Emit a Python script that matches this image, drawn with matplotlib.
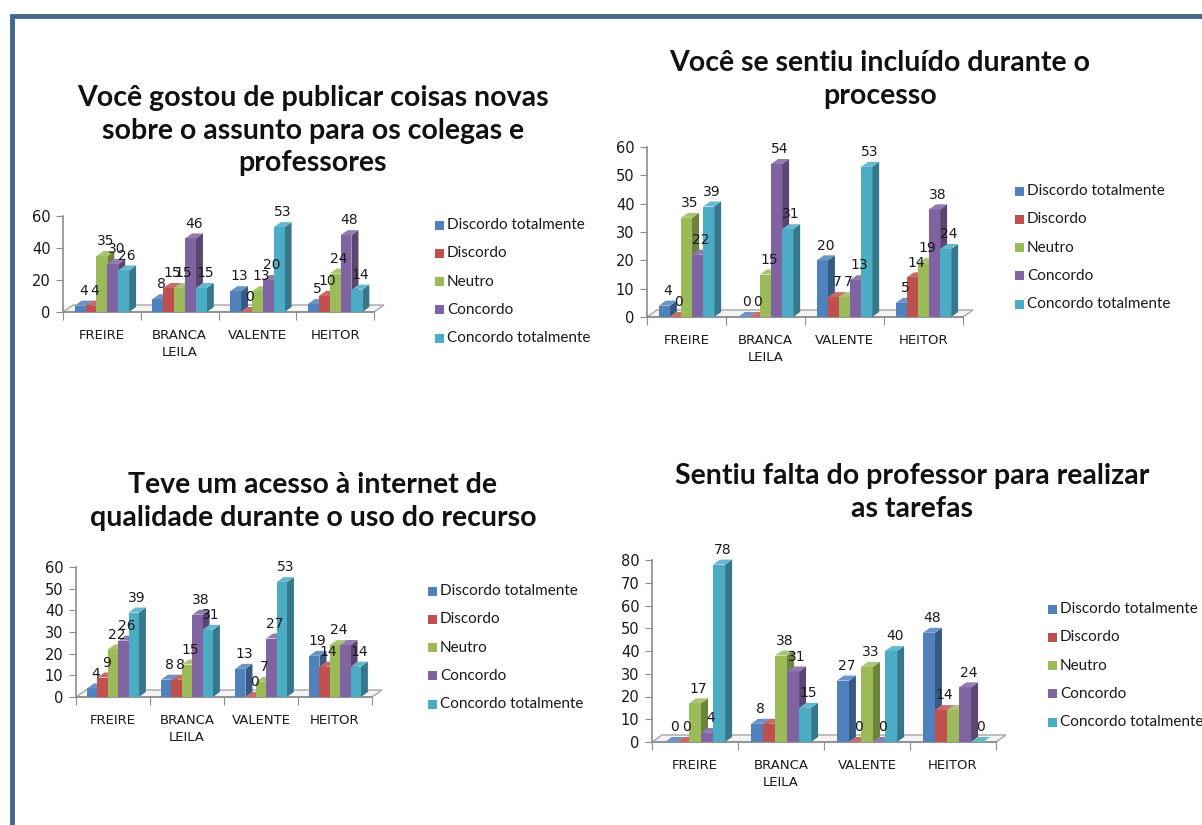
import matplotlib
matplotlib.use("Agg")
import matplotlib.pyplot as plt
from matplotlib.patches import Polygon, Rectangle
from matplotlib.lines import Line2D
import matplotlib.colors as mcolors

# data
categories = ["FREIRE", "BRANCA\nLEILA", "VALENTE", "HEITOR"]
series = ["Discordo totalmente", "Discordo", "Neutro", "Concordo", "Concordo totalmente"]
colors = ["#4F81BD", "#C0504D", "#9BBB59", "#8064A2", "#4BACC6"]

titles = [
    "Você gostou de publicar coisas novas\nsobre o assunto para os colegas e\nprofessores",
    "Você se sentiu incluído durante o\nprocesso",
    "Teve um acesso à internet de\nqualidade durante o uso do recurso",
    "Sentiu falta do professor para realizar\nas tarefas",
]

# values[category][series]
publicar = [[4, 4, 35, 30, 26], [8, 15, 15, 46, 15], [13, 0, 13, 20, 53], [5, 10, 24, 48, 14]]
incluido = [[4, 0, 35, 22, 39], [0, 0, 15, 54, 31], [20, 7, 7, 13, 53], [5, 14, 19, 38, 24]]
internet = [[4, 9, 22, 26, 39], [8, 8, 15, 38, 31], [13, 0, 7, 27, 53], [19, 14, 24, 24, 14]]
falta = [[0, 0, 17, 4, 78], [8, 8, 38, 31, 15], [27, 0, 33, 0, 40], [48, 14, 14, 24, 0]]

# data labels that are not shown in the original (category, series)
hidden = [[], [], [(3, 3)], [(1, 1), (3, 2)]]

W, H = 1202, 825
fig = plt.figure(figsize=(W / 100, H / 100), dpi=100)
fig.patch.set_facecolor("white")


def fx(px):
    return px / W


def fy(py):
    return 1 - py / H


def shade(c, f):
    r, g, b = mcolors.to_rgb(c)
    if f < 1:
        return (r * f, g * f, b * f)
    return (r + (1 - r) * (f - 1), g + (1 - g) * (f - 1), b + (1 - b) * (f - 1))


def draw_chart(box, values, ymax, ystep, title, title_pos, legend_pos, hide, bw=0.14):
    left, right, top, bottom = box
    ax = fig.add_axes([fx(left), fy(bottom), (right - left) / W, (bottom - top) / H])
    ax.set_xlim(-0.5, 3.5)
    ax.set_ylim(0, ymax)
    ax.patch.set_alpha(0)

    # depth of the fake 3d look, in data units
    ddx = 7 * 4 / (right - left)
    ddy = 5 * ymax / (bottom - top)
    fdx = 10 * 4 / (right - left)
    fdy = 7 * ymax / (bottom - top)

    floor = Polygon([(-0.5, 0), (3.5, 0), (3.5 + fdx, fdy), (-0.5 + fdx, fdy)],
                    closed=True, facecolor="#f4f4f4", edgecolor="#a6a6a6",
                    lw=1, zorder=1, clip_on=False)
    ax.add_patch(floor)

    for j in range(len(series)):
        vals = [row[j] for row in values]
        xs = [i + (j - 2) * bw for i in range(len(categories))]
        ax.bar(xs, vals, width=bw, color=colors[j], edgecolor="none",
               zorder=3 + 2 * j, clip_on=False)
        for i, (x, v) in enumerate(zip(xs, vals)):
            side = Polygon([(x + bw / 2, 0), (x + bw / 2 + ddx, ddy),
                            (x + bw / 2 + ddx, v + ddy), (x + bw / 2, v)],
                           closed=True, facecolor=shade(colors[j], 0.7),
                           edgecolor="none", zorder=2 + 2 * j, clip_on=False)
            topf = Polygon([(x - bw / 2, v), (x + bw / 2, v),
                            (x + bw / 2 + ddx, v + ddy), (x - bw / 2 + ddx, v + ddy)],
                           closed=True, facecolor=shade(colors[j], 1.15),
                           edgecolor="none", zorder=3 + 2 * j, clip_on=False)
            ax.add_patch(side)
            ax.add_patch(topf)
            if (i, j) not in hide:
                ax.annotate(str(v), (x + ddx / 2, v + ddy), xytext=(0, 2),
                            textcoords="offset points", ha="center", va="bottom",
                            fontsize=10, color="#1a1a1a", zorder=20,
                            annotation_clip=False)

    for s in ["top", "right"]:
        ax.spines[s].set_visible(False)
    for s in ["left", "bottom"]:
        ax.spines[s].set_color("#8c8c8c")
        ax.spines[s].set_linewidth(1.2)
        ax.spines[s].set_zorder(2)

    ax.set_yticks(range(0, ymax + 1, ystep))
    ax.tick_params(axis="y", direction="out", length=5, color="#8c8c8c",
                   labelsize=10.5, labelcolor="#1a1a1a", pad=4)
    ax.set_xticks([-0.5, 0.5, 1.5, 2.5, 3.5])
    ax.set_xticklabels([])
    ax.tick_params(axis="x", which="major", direction="out", length=6, color="#8c8c8c")
    ax.set_xticks(range(len(categories)), minor=True)
    ax.set_xticklabels(categories, minor=True, fontsize=9.5, color="#1a1a1a",
                       linespacing=1.4, va="top")
    ax.tick_params(axis="x", which="minor", length=0, pad=12)

    fig.text(fx(title_pos[0]), fy(title_pos[1]), title, ha="center", va="top",
             fontsize=20.5, fontweight="bold", family="Lato", color="#111111",
             linespacing=1.32)

    lx, ly = legend_pos
    for j, name in enumerate(series):
        yy = ly + j * 28.3
        fig.add_artist(Rectangle((fx(lx), fy(yy + 4.5)), 9 / W, 9 / H,
                                 transform=fig.transFigure, facecolor=colors[j],
                                 edgecolor="none"))
        fig.text(fx(lx + 12), fy(yy), name, ha="left", va="center",
                 fontsize=11, family="Lato", color="#1a1a1a")
    return ax


draw_chart((63, 374, 216, 312), publicar, 60, 20, titles[0], (313, 85), (435, 225), hidden[0])
draw_chart((647, 963, 147, 317), incluido, 60, 10, titles[1], (880, 50), (1015, 191), hidden[1])
draw_chart((76, 372, 567, 697), internet, 60, 10, titles[2], (313, 472), (428, 591), hidden[2])
draw_chart((652, 996, 560, 742), falta, 80, 10, titles[3], (912, 463), (1048, 609), hidden[3])

# frame around the slide
fig.add_artist(Line2D([fx(12), fx(12), fx(W + 5)], [fy(H + 5), fy(16), fy(16)],
                      transform=fig.transFigure, color="#46658f", lw=3.5,
                      solid_joinstyle="miter"))

fig.savefig("out.png", dpi=100)
